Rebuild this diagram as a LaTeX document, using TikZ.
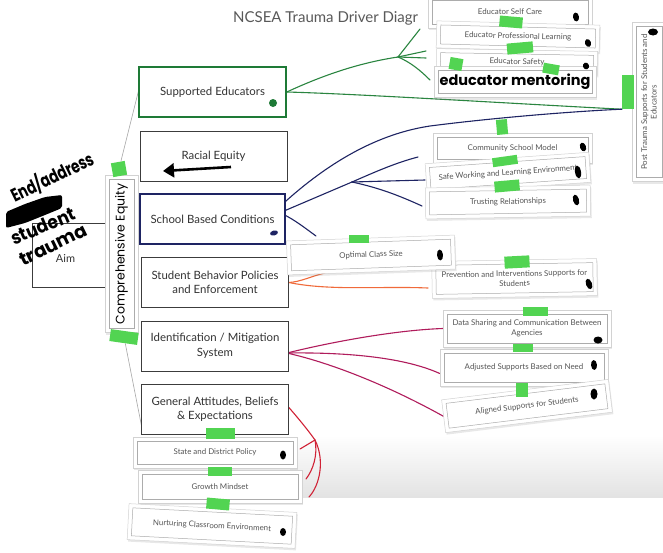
\documentclass[tikz,border=0pt]{standalone}
\usepackage{fontspec}
\setmainfont{Lato}
\newfontfamily\hand{Poppins}
\usetikzlibrary{shapes.geometric,shadows,calc,arrows.meta}
\pgfdeclarelayer{bgl}\pgfdeclarelayer{lines}\pgfsetlayers{bgl,lines,main}

\definecolor{segreen}{HTML}{1E7A36}
\definecolor{lgreen}{HTML}{2A8540}
\definecolor{navyc}{HTML}{1E2463}
\definecolor{orangec}{HTML}{F06A3A}
\definecolor{magc}{HTML}{B01C5C}
\definecolor{redc}{HTML}{D02236}
\definecolor{tapec}{HTML}{52D452}
\definecolor{boxc}{HTML}{3C3C3C}
\definecolor{txtc}{HTML}{333333}
\definecolor{cardtxt}{HTML}{555555}

\tikzset{
 driver/.style={draw=boxc, line width=0.8pt, fill=white, minimum width=147pt, minimum height=50pt, align=center, font=\fontsize{11.4}{14.5}\selectfont, text=txtc, inner sep=2pt},
 cardout/.style={draw=gray!35, line width=0.5pt, fill=white, inner sep=0pt, drop shadow={shadow xshift=1pt, shadow yshift=-2pt, opacity=0.18}},
 cardin/.style={draw=gray!65, line width=0.5pt, inner sep=0pt, align=center, text=cardtxt, font=\fontsize{7.9}{9.6}\selectfont},
 tapest/.style={fill=tapec, inner sep=0pt},
 blobst/.style={ellipse, fill=black, inner sep=0pt},
 conn/.style={line width=1.1pt, line cap=round},
 thinl/.style={draw=gray!70, line width=0.6pt},
 handtxt/.style={font=\hand\bfseries\fontsize{18.5}{18.5}\selectfont, text=black, inner sep=0pt},
}

\newcommand\cardat[7]{%
 \node[cardout, minimum width=#4, minimum height=#5, rotate=#6] (#1) at (#2,#3) {};
 \node[cardin, minimum width=#4-8, minimum height=#5-8, rotate=#6] (#1-in) at (#1) {#7};}
\newcommand\tapeat[6]{\node[tapest, minimum width=#4, minimum height=#5, rotate=#6] (#1) at (#2,#3) {};}
\newcommand\blobat[6]{\node[blobst, minimum width=#4, minimum height=#5, rotate=#6] (#1) at (#2,#3) {};}

\begin{document}
\begin{tikzpicture}[x=1pt,y=-1pt]
\useasboundingbox (0,0) rectangle (663,552);
\begin{pgfonlayer}{bgl}
 \fill[white] (0,0) rectangle (663,552);
 \shade[top color=white, bottom color=gray!22] (290,435) rectangle (663,497);
\end{pgfonlayer}

% title
\node[anchor=west, text=boxc!85, font=\fontsize{15}{18}\selectfont, inner sep=0pt] (title) at (233,18) {NCSEA Trauma Driver Diagr};

% aim box
\node[draw=boxc, line width=0.7pt, fill=white, minimum width=75, minimum height=64] (aim) at (69.5,255) {};
\node[font=\fontsize{11}{13}\selectfont, text=txtc, inner sep=0pt] (aimtxt) at ($(aim)+(-4,3)$) {Aim};

% drivers
\node[driver, draw=segreen, line width=1.6pt] (se) at (212.5,92) {Supported Educators};
\node[driver] (re) at (213.5,156) {Racial Equity};
\node[driver, draw=navyc, line width=1.3pt, minimum width=145] (sbc) at (212.5,219) {School Based Conditions};
\node[driver] (sbp) at (215,282.5) {Student Behavior Policies\\and Enforcement};
\node[driver] (im) at (215,346) {Identification / Mitigation\\System};
\node[driver] (ga) at (215,409.5) {General Attitudes, Beliefs\\\& Expectations};

% marks inside drivers
\coordinate (reA) at (231,167);
\coordinate (reB) at (163,171);
\draw[line width=2.6pt, -{Triangle[length=11pt,width=14pt]}] (reA) -- (reB);
\node[circle, fill=segreen, minimum size=8pt, inner sep=0pt] (sedot) at (273,103) {};
\node[ellipse, fill=navyc, minimum width=8, minimum height=5, inner sep=0pt, rotate=15] (sbcdot) at (274,233) {};

% comprehensive equity card
\cardat{ce}{121.5}{254}{157}{33}{90}{{\hand\fontsize{12.5}{13}\selectfont\color{black}Comprehensive Equity}}

% cards
\cardat{selfcare}{510}{12}{164}{32}{0}{Educator Self Care}
\cardat{profl}{518}{36.5}{163}{27}{-1.5}{Educator Professional Learning}
\cardat{safety}{517}{62}{161}{24}{-1}{Educator Safety}
\cardat{mentor}{515}{82}{162}{31}{0}{{\hand\bfseries\fontsize{14.5}{15}\selectfont\color{black}educator mentoring}}
\cardat{post}{649}{102}{159}{34}{90}{Post Trauma Supports for Students and\\Educators}
\cardat{community}{512.5}{148}{159}{30}{0}{Community School Model}
\cardat{safework}{508}{173}{164}{30}{4}{Safe Working and Learning Environment}
\cardat{trusting}{508}{202}{165}{31}{1}{Trusting Relationships}
\cardat{prevention}{514.5}{278.5}{165}{37}{1}{Prevention and Interventions Supports for\\Students}
\cardat{optimal}{371}{255}{168}{34}{2}{Optimal Class Size}
\cardat{datashare}{527}{328.5}{168}{37}{0}{Data Sharing and Communication Between\\Agencies}
\cardat{adjusted}{524}{367.5}{168}{37}{0}{Adjusted Supports Based on Need}
\cardat{aligned}{527}{406}{168}{33}{7}{Aligned Supports for Students}
\cardat{statepol}{215}{452.5}{164}{31}{0}{State and District Policy}
\cardat{growth}{220}{486.5}{164}{33}{0}{Growth Mindset}
\cardat{nurture}{212}{526}{168}{36}{-3}{Nurturing Classroom Environment}

% blobs
\blobat{b1}{576}{17}{6}{9}{10}
\blobat{b2}{588}{43}{6}{8}{20}
\blobat{b3}{586}{66}{6}{7}{20}
\blobat{b4}{653}{32}{10}{7}{0}
\blobat{b5}{583}{147}{6}{9}{20}
\blobat{b6}{578}{172}{6}{13}{10}
\blobat{b7}{576}{200}{6}{11}{15}
\blobat{b8}{440}{255}{6}{11}{5}
\blobat{b9}{589}{284}{6}{11}{20}
\blobat{b10}{598}{340}{9}{7}{0}
\blobat{b11}{594}{365}{6}{10}{5}
\blobat{b12}{594}{394}{7}{11}{0}
\blobat{b13}{283}{455}{6}{9}{0}
\blobat{b14}{283}{532}{6}{8}{0}

% tapes
\tapeat{t1}{511}{22}{23}{11}{-5}
\tapeat{t2}{520}{48}{26}{11}{5}
\tapeat{t3}{456}{64}{13}{12}{-10}
\tapeat{t4}{551}{69}{16}{10}{-10}
\tapeat{posttape}{628}{92}{12}{34}{0}
\tapeat{t6}{502}{127}{11}{15}{5}
\tapeat{t7}{505}{161}{25}{9}{8}
\tapeat{t8}{507}{186}{25}{11}{5}
\tapeat{t9}{359}{239}{20}{8}{0}
\tapeat{t10}{517}{262}{25}{12}{3}
\tapeat{t11}{535}{311}{25}{9}{0}
\tapeat{t12}{523}{348}{20}{8}{0}
\tapeat{t13}{522}{390}{12}{14}{0}
\tapeat{t14}{220}{433}{29}{11}{0}
\tapeat{t15}{220}{471}{24}{9}{0}
\tapeat{t16}{218}{504}{23}{11}{-5}
\tapeat{cetape1}{119}{169}{14}{14}{10}
\tapeat{cetape2}{124}{337}{28}{12}{-8}

% handwriting on the left
\node[handtxt, rotate=26] (hw1) at (52,177) {\scalebox{0.74}[1]{End/address}};
\fill[black, rounded corners=2pt] (6,212) -- (6,228) -- (25,223) -- (45,215) -- (62,208) -- (62,195) -- (45,197) -- (25,204) -- cycle;
\node[handtxt, rotate=23] (hw2) at (43,226) {\scalebox{0.92}[1]{student}};
\node[handtxt, rotate=26] (hw3) at (53,245) {trauma};

% connectors
\coordinate (gj) at (398,57);
\coordinate (g1) at (420,29);
\coordinate (g2) at (426,51);
\coordinate (g3) at (426,58);
\coordinate (g4) at (430,80);
\coordinate (nj) at (352,182);
\coordinate (n1) at (418,157);
\coordinate (n2) at (425,180);
\coordinate (n3) at (422,206);
\coordinate (n4) at (316,236);
\coordinate (o1) at (325,273);
\coordinate (o2) at (428,288);
\coordinate (rj) at (315,440);
\coordinate (r1) at (300,449);
\coordinate (r2) at (306,479);
\coordinate (r3) at (309,497);
\begin{pgfonlayer}{lines}
 \draw[thinl] (cetape1) -- ($(se.west)+(1,-4)$);
 \draw[thinl] (cetape2) -- ($(ga.south west)+(1,-6)$);
 \draw[conn, lgreen] (se.east) .. controls (330,72) and (365,62) .. (gj);
 \draw[conn, lgreen] (gj) -- (g1);
 \draw[conn, lgreen] (gj) -- (g2);
 \draw[conn, lgreen] (gj) -- (g3);
 \draw[conn, lgreen] (gj) .. controls (410,62) and (420,70) .. (g4);
 \draw[conn, lgreen] (se.east) .. controls (360,94) and (520,104) .. (posttape.south west);
 \draw[conn, navyc] ($(sbc.east)+(-3,-15)$) .. controls (320,170) and (370,135) .. (430,126) .. controls (500,117) and (580,111) .. (posttape.south west);
 \draw[conn, navyc] ($(sbc.east)+(-4,-7)$) -- (nj);
 \draw[conn, navyc] (nj) .. controls (375,172) and (395,163) .. (n1);
 \draw[conn, navyc] (nj) -- (n2);
 \draw[conn, navyc] (nj) .. controls (380,188) and (400,196) .. (n3);
 \draw[conn, navyc] ($(sbc.east)+(-3,-5)$) .. controls (295,220) and (305,228) .. (n4);
 \draw[conn, orangec] (sbp.east) .. controls (300,282) and (312,276) .. (o1);
 \draw[conn, orangec] (sbp.east) .. controls (330,291) and (380,286) .. (o2);
 \draw[conn, magc] ($(im.east)+(-2,7)$) .. controls (340,340) and (400,330) .. (datashare.west);
 \draw[conn, magc] ($(im.east)+(-2,7)$) .. controls (360,352) and (410,360) .. ($(adjusted.west)+(0,6)$);
 \draw[conn, magc] ($(im.east)+(-2,7)$) .. controls (340,365) and (400,392) .. (aligned.west);
 \draw[conn, redc] ($(ga.east)+(0,-2)$) .. controls (298,418) and (308,430) .. (rj);
 \draw[conn, redc] (rj) -- (r1);
 \draw[conn, redc] (rj) .. controls (318,455) and (313,470) .. (r2);
 \draw[conn, redc] (rj) .. controls (325,460) and (320,485) .. (r3);
\end{pgfonlayer}
\end{tikzpicture}
\end{document}
